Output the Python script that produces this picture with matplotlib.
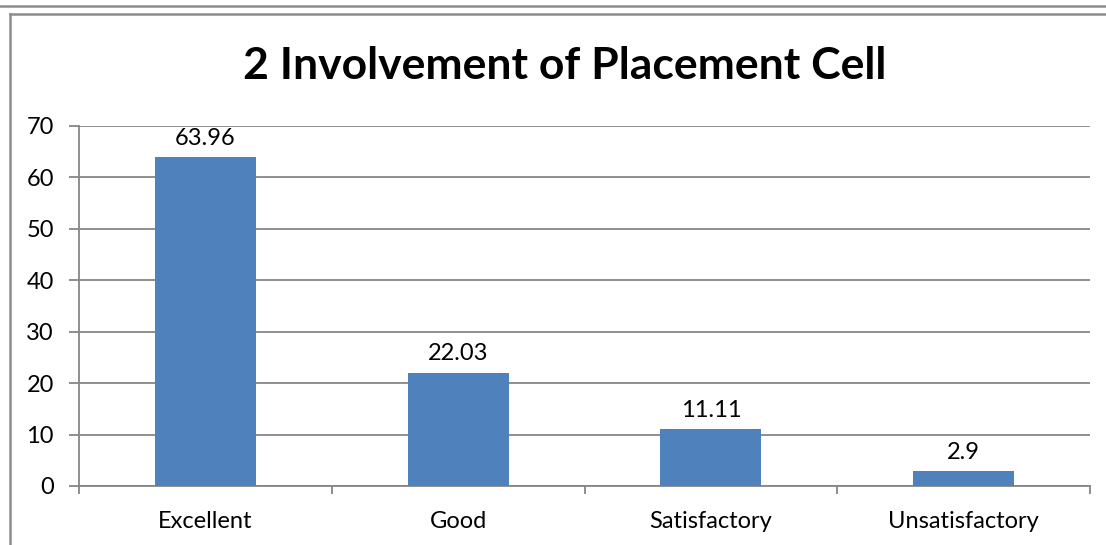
import matplotlib
matplotlib.use("Agg")
import matplotlib.pyplot as plt
from matplotlib.lines import Line2D

categories = ["Excellent", "Good", "Satisfactory", "Unsatisfactory"]
values = [63.96, 22.03, 11.11, 2.9]
labels = ["63.96", "22.03", "11.11", "2.9"]
yticks = [0, 10, 20, 30, 40, 50, 60, 70]
title = "2 Involvement of Placement Cell"

plt.rcParams['font.family'] = ['Lato', 'DejaVu Sans']

W, H = 1106, 545
fig = plt.figure(figsize=(W / 100, H / 100), dpi=100)
ax = fig.add_axes([79 / W, 59 / H, (1090 - 79) / W, (486 - 126) / H])

grey = "#868686"
x = list(range(len(categories)))
ax.bar(x, values, width=0.4, color="#4F81BD", zorder=3)
for xi, v, lab in zip(x, values, labels):
    ax.annotate(lab, (xi, v), xytext=(0, 6), textcoords="offset points",
                ha="center", va="bottom", fontsize=17, color="black")

ax.set_xlim(-0.5, len(categories) - 0.5)
ax.set_ylim(0, 70)
ax.set_yticks(yticks)
ax.set_yticklabels([str(t) for t in yticks], fontsize=17)
ax.yaxis.grid(True, color=grey, linewidth=1.3, zorder=0)
ax.set_axisbelow(True)

ax.set_xticks(x)
ax.set_xticklabels(categories, fontsize=17)
ax.tick_params(axis="x", length=0, pad=18)
ax.set_xticks([i - 0.5 for i in range(len(categories) + 1)], minor=True)
ax.tick_params(axis="x", which="minor", length=6, width=1.3, color=grey, direction="out")
ax.tick_params(axis="y", length=7, width=1.3, color=grey, pad=11)

for s in ["top", "right"]:
    ax.spines[s].set_visible(False)
for s in ["left", "bottom"]:
    ax.spines[s].set_color(grey)
    ax.spines[s].set_linewidth(1.3)

fig.text(565 / W, 1 - 66 / H, title, ha="center", va="center",
         fontsize=32, fontweight="bold", color="black")

# outer frame lines
bc = "#8c8c8c"
fig.add_artist(Line2D([0, 1], [1 - 6 / H, 1 - 6 / H], transform=fig.transFigure, color=bc, linewidth=1.8))
fig.add_artist(Line2D([10 / W, 1], [1 - 14 / H, 1 - 14 / H], transform=fig.transFigure, color=bc, linewidth=1.8))
fig.add_artist(Line2D([10 / W, 10 / W], [0, 1 - 14 / H], transform=fig.transFigure, color=bc, linewidth=1.8))

fig.savefig("out.png", dpi=100)
